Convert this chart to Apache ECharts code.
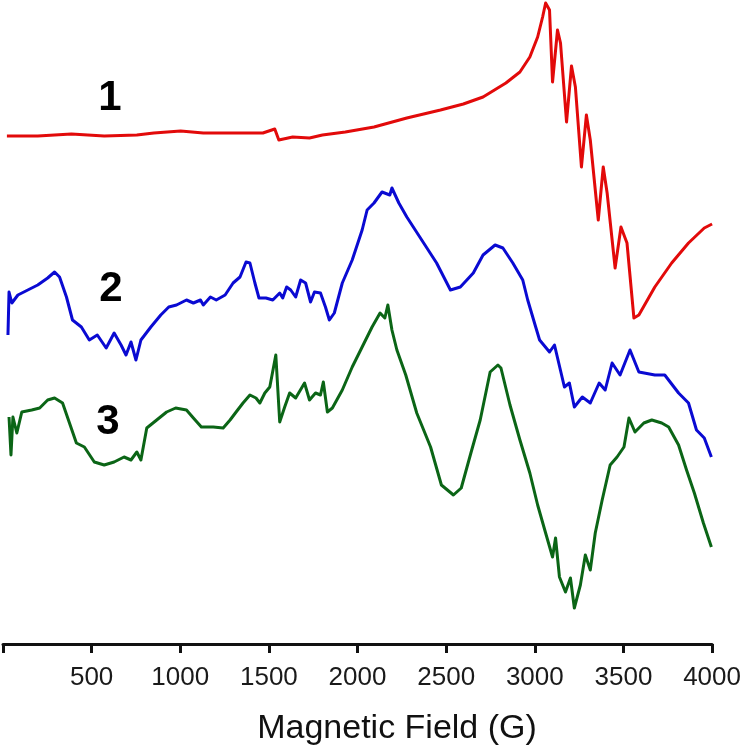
<!DOCTYPE html>
<html>
<head>
<meta charset="utf-8">
<script src="https://cdn.jsdelivr.net/npm/echarts@6/dist/echarts.min.js"></script>
<style>
html,body{margin:0;padding:0;background:#fff;}
#chart{width:744px;height:750px;}
</style>
</head>
<body>
<div id="chart"></div>
<script>
// Magnetic field (G) and signal (arbitrary offset units) for each spectrum
var fieldTicks = [500, 1000, 1500, 2000, 2500, 3000, 3500, 4000];
var traceLabels = ['1', '2', '3'];

var field1 = [22,196,386,571,755,851,1002,1130,1315,1466,1533,1556,1634,1729,1802,1931,2093,2278,2468,2597,2708,2837,2916,2972,3016,3044,3061,3083,3100,3128,3145,3179,3207,3229,3263,3291,3313,3358,3386,3408,3453,3486,3520,3559,3587,3677,3772,3867,3956,4000];
var signal1 = [508,508,510,508,509,511,513,511,511,511,515,504,507,506,509,512,517,526,534,540,547,561,572,587,607,627,641,634,562,614,601,522,578,557,477,529,504,424,477,451,376,417,401,326,329,357,381,401,416,420];

var field2 = [28,34,50,84,140,196,252,291,319,358,392,442,487,532,582,627,666,694,722,750,778,834,890,935,979,1035,1074,1114,1130,1170,1203,1253,1298,1337,1371,1393,1421,1444,1483,1522,1561,1578,1600,1623,1651,1679,1707,1735,1757,1791,1819,1841,1869,1914,1970,2026,2054,2093,2138,2182,2194,2233,2278,2373,2446,2524,2580,2653,2708,2776,2820,2876,2932,2960,3005,3027,3083,3111,3167,3195,3223,3268,3313,3363,3397,3436,3481,3537,3587,3677,3733,3811,3867,3912,3956,3996];
var signal2 = [309,352,341,349,354,359,366,372,367,347,324,317,304,309,296,311,299,289,302,284,304,317,329,337,339,344,341,344,339,347,344,349,361,367,382,381,361,346,346,344,351,346,357,354,347,364,361,342,352,351,337,324,331,361,384,414,434,441,452,449,456,441,427,401,381,354,357,371,389,399,396,381,364,344,317,304,292,299,257,261,237,247,241,261,254,281,269,294,272,269,269,251,241,214,206,187];

var field3 = [34,45,56,78,106,162,207,252,291,336,375,414,459,515,571,627,683,722,755,778,811,867,923,974,1035,1074,1119,1186,1242,1281,1315,1354,1393,1427,1449,1477,1505,1539,1561,1589,1617,1651,1701,1729,1763,1791,1807,1830,1858,1914,1970,2026,2082,2127,2154,2171,2194,2222,2272,2334,2412,2473,2541,2585,2641,2692,2748,2792,2809,2860,2916,2972,3016,3061,3100,3117,3139,3173,3201,3223,3257,3285,3313,3341,3380,3425,3464,3503,3531,3565,3615,3660,3716,3755,3811,3856,3900,3951,3996];
var signal3 = [227,189,227,211,232,234,236,244,246,241,221,201,197,182,179,182,187,184,192,184,216,224,232,236,234,226,217,217,216,224,232,241,249,246,241,251,257,289,222,237,251,246,261,244,251,249,262,232,236,254,277,297,317,331,326,339,314,294,269,231,197,159,149,156,192,224,272,279,276,239,204,171,139,111,87,106,67,52,66,36,59,89,74,111,144,179,187,197,226,212,221,224,221,217,199,174,151,121,97];

function pairs(xs, ys) {
  var out = [];
  for (var i = 0; i < xs.length; i++) out.push([xs[i], ys[i]]);
  return out;
}

var chart = echarts.init(document.getElementById('chart'), null, {renderer: 'canvas'});
var font = '"Liberation Sans", Arial, sans-serif';

function lineSeries(name, data, color) {
  return {
    name: name,
    type: 'line',
    data: data,
    showSymbol: false,
    symbol: 'none',
    smooth: false,
    lineStyle: {color: color, width: 3, join: 'round'},
    animation: false
  };
}

chart.setOption({
  animation: false,
  backgroundColor: '#ffffff',
  grid: {left: -2, right: 31, top: 0, bottom: 106, containLabel: false},
  xAxis: {
    type: 'value',
    min: 0,
    max: 4000,
    interval: 500,
    axisLine: {show: true, lineStyle: {color: '#111', width: 3}},
    axisTick: {show: true, inside: false, length: 9, lineStyle: {color: '#111', width: 3}},
    axisLabel: {
      show: true,
      margin: 21,
      fontSize: 26,
      color: '#1a1a1a',
      fontFamily: font,
      formatter: function (v) { return fieldTicks.indexOf(v) >= 0 ? String(v) : ''; }
    },
    splitLine: {show: false}
  },
  yAxis: {
    type: 'value',
    min: 0,
    max: 644,
    show: false,
    splitLine: {show: false}
  },
  series: [
    lineSeries('1', pairs(field1, signal1), '#e20a0a'),
    lineSeries('2', pairs(field2, signal2), '#0a0ad2'),
    lineSeries('3', pairs(field3, signal3), '#0b6516')
  ],
  graphic: [
    {type: 'text', x: 110, y: 98, style: {text: traceLabels[0], font: 'bold 42px ' + font, fill: '#000', textAlign: 'center', textVerticalAlign: 'middle'}},
    {type: 'text', x: 111, y: 289, style: {text: traceLabels[1], font: 'bold 42px ' + font, fill: '#000', textAlign: 'center', textVerticalAlign: 'middle'}},
    {type: 'text', x: 108, y: 422, style: {text: traceLabels[2], font: 'bold 42px ' + font, fill: '#000', textAlign: 'center', textVerticalAlign: 'middle'}},
    {type: 'text', x: 397, y: 729, style: {text: 'Magnetic Field (G)', font: '34px ' + font, fill: '#111', textAlign: 'center', textVerticalAlign: 'middle'}}
  ]
});
</script>
</body>
</html>
